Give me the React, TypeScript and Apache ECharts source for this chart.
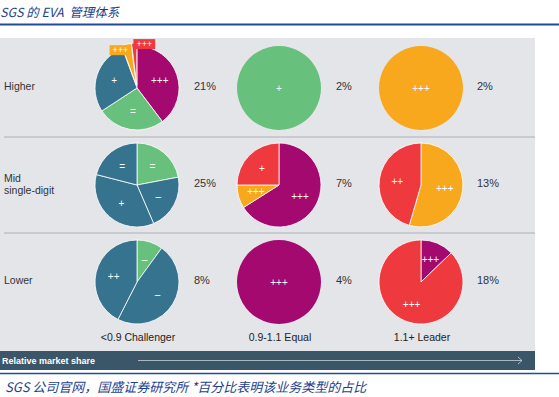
import React, { useEffect, useRef } from 'react';
import * as echarts from 'echarts';

const rowLabels = ['Higher', 'Mid\nsingle-digit', 'Lower'];
const colLabels = ['<0.9 Challenger', '0.9-1.1 Equal', '1.1+ Leader'];
const shareLabels = [
  ['21%', '2%', '2%'],
  ['25%', '7%', '13%'],
  ['8%', '4%', '18%'],
];

const palette: Record<string, string> = {
  magenta: '#a3096f',
  green: '#67c07b',
  blue: '#35738f',
  orange: '#f8a81d',
  red: '#ee3a3f',
};

// [type, sign, value]
const higherChallenger: [string, string, number][] = [
  ['magenta', '+++', 39.7], ['green', '=', 26.1], ['blue', '+', 28.6], ['orange', '+++', 3.6], ['red', '+++', 2.0],
];
const higherEqual: [string, string, number][] = [['green', '+', 100]];
const higherLeader: [string, string, number][] = [['orange', '+++', 100]];
const midChallenger: [string, string, number][] = [
  ['green', '=', 22], ['blue', '–', 21.5], ['blue', '+', 35.5], ['blue', '=', 21],
];
const midEqual: [string, string, number][] = [['magenta', '+++', 66], ['orange', '+++', 9], ['red', '+', 25]];
const midLeader: [string, string, number][] = [['orange', '+++', 54.5], ['red', '++', 45.5]];
const lowerChallenger: [string, string, number][] = [['green', '–', 10], ['blue', '–', 47.5], ['blue', '++', 42.5]];
const lowerEqual: [string, string, number][] = [['magenta', '+++', 100]];
const lowerLeader: [string, string, number][] = [['magenta', '+++', 12.8], ['red', '+++', 87.2]];

const cells = [
  [higherChallenger, higherEqual, higherLeader],
  [midChallenger, midEqual, midLeader],
  [lowerChallenger, lowerEqual, lowerLeader],
];

const colX = [137, 279, 421];
const rowY = [88, 185, 282];
const shareX = [194, 336, 477];
const FONT = "'Liberation Sans', Arial, sans-serif";
const CJK = "'Noto Sans CJK SC', sans-serif";

export default function App() {
  const ref = useRef<HTMLDivElement>(null);
  useEffect(() => {
    if (!ref.current) return;
    const chart = echarts.init(ref.current, undefined, { renderer: 'svg' });
    const series: any[] = [];
    cells.forEach((row, r) => {
      row.forEach((cell, c) => {
        const single = cell.length === 1;
        const s: any = {
          type: 'pie',
          silent: true,
          center: [colX[c], rowY[r]],
          radius: 42,
          startAngle: 90,
          selectedMode: 'multiple',
          selectedOffset: 3,
          emphasis: { disabled: true },
          labelLine: { show: false, length: 0, length2: 0 },
          data: cell.map(([type, sign, value], i) => {
            const tiny = r === 0 && c === 0 && value < 5;
            const item: any = {
              name: sign + '_' + i,
              value,
              itemStyle: { color: palette[type], borderColor: '#ffffff', borderWidth: single ? 0 : 0.8 },
              label: {
                show: true,
                formatter: sign,
                color: '#ffffff',
                fontSize: 10,
                fontFamily: FONT,
                position: single ? 'center' : 'inner',
              },
            };
            if (tiny) {
              item.selected = true;
              item.label = {
                show: true,
                formatter: sign,
                color: '#ffffff',
                fontSize: 9,
                fontFamily: FONT,
                position: 'outside',
                backgroundColor: palette[type],
                padding: [1, 3, 0, 3],
                lineHeight: 9,
              };
            }
            return item;
          }),
        };
        if (r === 0 && c === 0) {
          s.labelLayout = (params: any) => {
            const t = cell[params.dataIndex];
            if (!t || t[2] >= 5) return {};
            return t[0] === 'red' ? { dx: 26, dy: 1 } : { dx: 25, dy: -5 };
          };
        }
        series.push(s);
      });
    });

    const graphics: any[] = [
      { type: 'rect', shape: { x: 0, y: 38, width: 535, height: 313 }, style: { fill: '#e4e5e9' }, z: -10 },
      { type: 'rect', shape: { x: 0, y: 351, width: 535, height: 19 }, style: { fill: '#3b5569' }, z: -10 },
      { type: 'line', shape: { x1: 0, y1: 24.5, x2: 559, y2: 24.5 }, style: { stroke: '#1f4b9a', lineWidth: 2 } },
      { type: 'line', shape: { x1: 0, y1: 373.5, x2: 559, y2: 373.5 }, style: { stroke: '#1f4b9a', lineWidth: 1.5 } },
      { type: 'line', shape: { x1: 4, y1: 137, x2: 535, y2: 137 }, style: { stroke: '#adafb4', lineWidth: 1 } },
      { type: 'line', shape: { x1: 4, y1: 233, x2: 535, y2: 233 }, style: { stroke: '#adafb4', lineWidth: 1 } },
      { type: 'line', shape: { x1: 138, y1: 360.5, x2: 522, y2: 360.5 }, style: { stroke: '#c9d0d6', lineWidth: 0.8 } },
      { type: 'polyline', shape: { points: [[518, 357], [522, 360.5], [518, 364]] }, style: { stroke: '#c9d0d6', lineWidth: 0.8, fill: 'none' } },
      {
        type: 'text', x: 0, y: 11,
        style: { text: 'SGS 的 EVA  管理体系', fontSize: 12.5, fontStyle: 'italic', fontFamily: CJK, fill: '#1e3f8f', verticalAlign: 'middle' },
      },
      {
        type: 'text', x: 5, y: 386,
        style: { text: 'SGS 公司官网，国盛证券研究所 *百分比表明该业务类型的占比', fontSize: 13, fontStyle: 'italic', fontFamily: CJK, fill: '#1e3f8f', verticalAlign: 'middle' },
      },
      {
        type: 'text', x: 2, y: 361,
        style: { text: 'Relative market share', fontSize: 9, fontWeight: 'bold', fontFamily: FONT, fill: '#ffffff', verticalAlign: 'middle' },
      },
    ];
    rowLabels.forEach((t, r) => {
      graphics.push({
        type: 'text', x: 4, y: r === 1 ? rowY[r] - 1 : rowY[r] - 2,
        style: { text: t, fontSize: 10.5, fontFamily: FONT, fill: '#333333', verticalAlign: 'middle', lineHeight: 12 },
      });
    });
    colLabels.forEach((t, c) => {
      graphics.push({
        type: 'text', x: colX[c] + 1, y: 337,
        style: { text: t, fontSize: 10.5, fontFamily: FONT, fill: '#222222', align: 'center', verticalAlign: 'middle' },
      });
    });
    shareLabels.forEach((row, r) => {
      row.forEach((t, c) => {
        graphics.push({
          type: 'text', x: shareX[c], y: rowY[r] - 2,
          style: { text: t, fontSize: 11, fontFamily: FONT, fill: '#333333', verticalAlign: 'middle' },
        });
      });
    });

    chart.setOption({
      animation: false,
      backgroundColor: '#ffffff',
      series,
      graphic: graphics,
    });
    return () => chart.dispose();
  }, []);
  return <div ref={ref} style={{ position: 'fixed', left: 0, top: 0, width: 559, height: 397 }} />;
}
